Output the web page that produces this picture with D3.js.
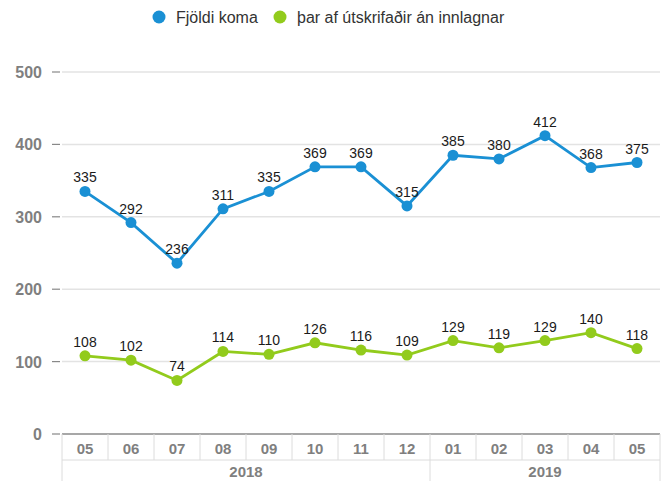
<!DOCTYPE html>
<html lang="is">
<head>
<meta charset="utf-8">
<title>Fjöldi koma</title>
<script src="https://cdn.jsdelivr.net/npm/d3@7"></script>
<style>
  body { margin: 0; background: #fff; font-family: "Liberation Sans", Arial, sans-serif; }
</style>
</head>
<body>
<svg id="chart" width="668" height="481"></svg>
<script>
// months shown along the bottom, with the year row below them
var months = ["05","06","07","08","09","10","11","12","01","02","03","04","05"];
var years = [{ label: "2018", from: 0, to: 7 }, { label: "2019", from: 8, to: 12 }];
var komur = [335, 292, 236, 311, 335, 369, 369, 315, 385, 380, 412, 368, 375];
var utskrifadir = [108, 102, 74, 114, 110, 126, 116, 109, 129, 119, 129, 140, 118];
var yTicks = [0, 100, 200, 300, 400, 500];

var series = [
  { name: "Fjöldi koma", values: komur, color: "#1a90d4" },
  { name: "þar af útskrifaðir án innlagnar", values: utskrifadir, color: "#92cb1c" }
];

var svg = d3.select("#chart");
// plot area (note: "top" is reserved on window, so use plotTop)
var plotLeft = 62, plotRight = 660, plotTop = 72, plotBottom = 434;

var x = d3.scaleBand().domain(d3.range(months.length)).range([plotLeft, plotRight]);
var y = d3.scaleLinear().domain([0, 500]).range([plotBottom, plotTop]);

// grid lines + y labels
svg.selectAll(".grid").data(yTicks.filter(function(d){ return d > 0; }))
  .enter().append("line")
  .attr("x1", plotLeft).attr("x2", plotRight)
  .attr("y1", function(d){ return y(d); }).attr("y2", function(d){ return y(d); })
  .attr("stroke", "#e3e3e3").attr("stroke-width", 1.5);

svg.selectAll(".tick").data(yTicks).enter().append("line")
  .attr("x1", 52).attr("x2", 60)
  .attr("y1", function(d){ return y(d); }).attr("y2", function(d){ return y(d); })
  .attr("stroke", "#888").attr("stroke-width", 1.2);

svg.selectAll(".ylab").data(yTicks).enter().append("text")
  .attr("x", 42).attr("y", function(d){ return y(d) + 6; })
  .attr("text-anchor", "end")
  .attr("font-size", "16px").attr("font-weight", "bold").attr("fill", "#7f7f7f")
  .text(function(d){ return d; });

// category table
var row1 = plotBottom + 26, row2 = 481;
svg.append("line").attr("x1", plotLeft).attr("x2", plotRight).attr("y1", plotBottom).attr("y2", plotBottom)
  .attr("stroke", "#8a8a8a").attr("stroke-width", 1.5);
svg.append("line").attr("x1", plotLeft).attr("x2", plotRight).attr("y1", row1).attr("y2", row1)
  .attr("stroke", "#dcdcdc");
svg.selectAll(".mdiv").data(d3.range(months.length + 1)).enter().append("line")
  .attr("x1", function(i){ return i < months.length ? x(i) : plotRight; })
  .attr("x2", function(i){ return i < months.length ? x(i) : plotRight; })
  .attr("y1", plotBottom).attr("y2", row1)
  .attr("stroke", "#dcdcdc");
svg.selectAll(".ydiv").data([0, 8, 13]).enter().append("line")
  .attr("x1", function(i){ return i < months.length ? x(i) : plotRight; })
  .attr("x2", function(i){ return i < months.length ? x(i) : plotRight; })
  .attr("y1", row1).attr("y2", row2)
  .attr("stroke", "#dcdcdc");

svg.selectAll(".mlab").data(months).enter().append("text")
  .attr("x", function(d, i){ return x(i) + x.bandwidth() / 2; })
  .attr("y", plotBottom + 20)
  .attr("text-anchor", "middle")
  .attr("font-size", "15px").attr("font-weight", "bold").attr("fill", "#7f7f7f")
  .text(function(d){ return d; });

svg.selectAll(".ylab2").data(years).enter().append("text")
  .attr("x", function(d){ return (x(d.from) + x(d.to) + x.bandwidth()) / 2; })
  .attr("y", row1 + 17)
  .attr("text-anchor", "middle")
  .attr("font-size", "15px").attr("font-weight", "bold").attr("fill", "#7f7f7f")
  .text(function(d){ return d.label; });

// lines, points, value labels
var cx = function(d, i){ return x(i) + x.bandwidth() / 2; };
var line = d3.line().x(cx).y(function(d){ return y(d); });

series.forEach(function(s){
  var g = svg.append("g");
  g.append("path").datum(s.values)
    .attr("d", line).attr("fill", "none")
    .attr("stroke", s.color).attr("stroke-width", 2.8);
  g.selectAll("circle").data(s.values).enter().append("circle")
    .attr("cx", cx).attr("cy", function(d){ return y(d); })
    .attr("r", 5.5).attr("fill", s.color);
  g.selectAll("text").data(s.values).enter().append("text")
    .attr("x", cx).attr("y", function(d){ return y(d) - 9; })
    .attr("text-anchor", "middle")
    .attr("font-size", "14px").attr("fill", "#1a1a1a")
    .text(function(d){ return d; });
});

// legend
var legend = svg.append("g");
var lx = [159, 280];
series.forEach(function(s, i){
  legend.append("circle").attr("cx", lx[i]).attr("cy", 17).attr("r", 6.5).attr("fill", s.color);
  legend.append("text").attr("x", lx[i] + 17).attr("y", 23)
    .attr("font-size", "16px").attr("fill", "#333").text(s.name);
});
</script>
</body>
</html>
